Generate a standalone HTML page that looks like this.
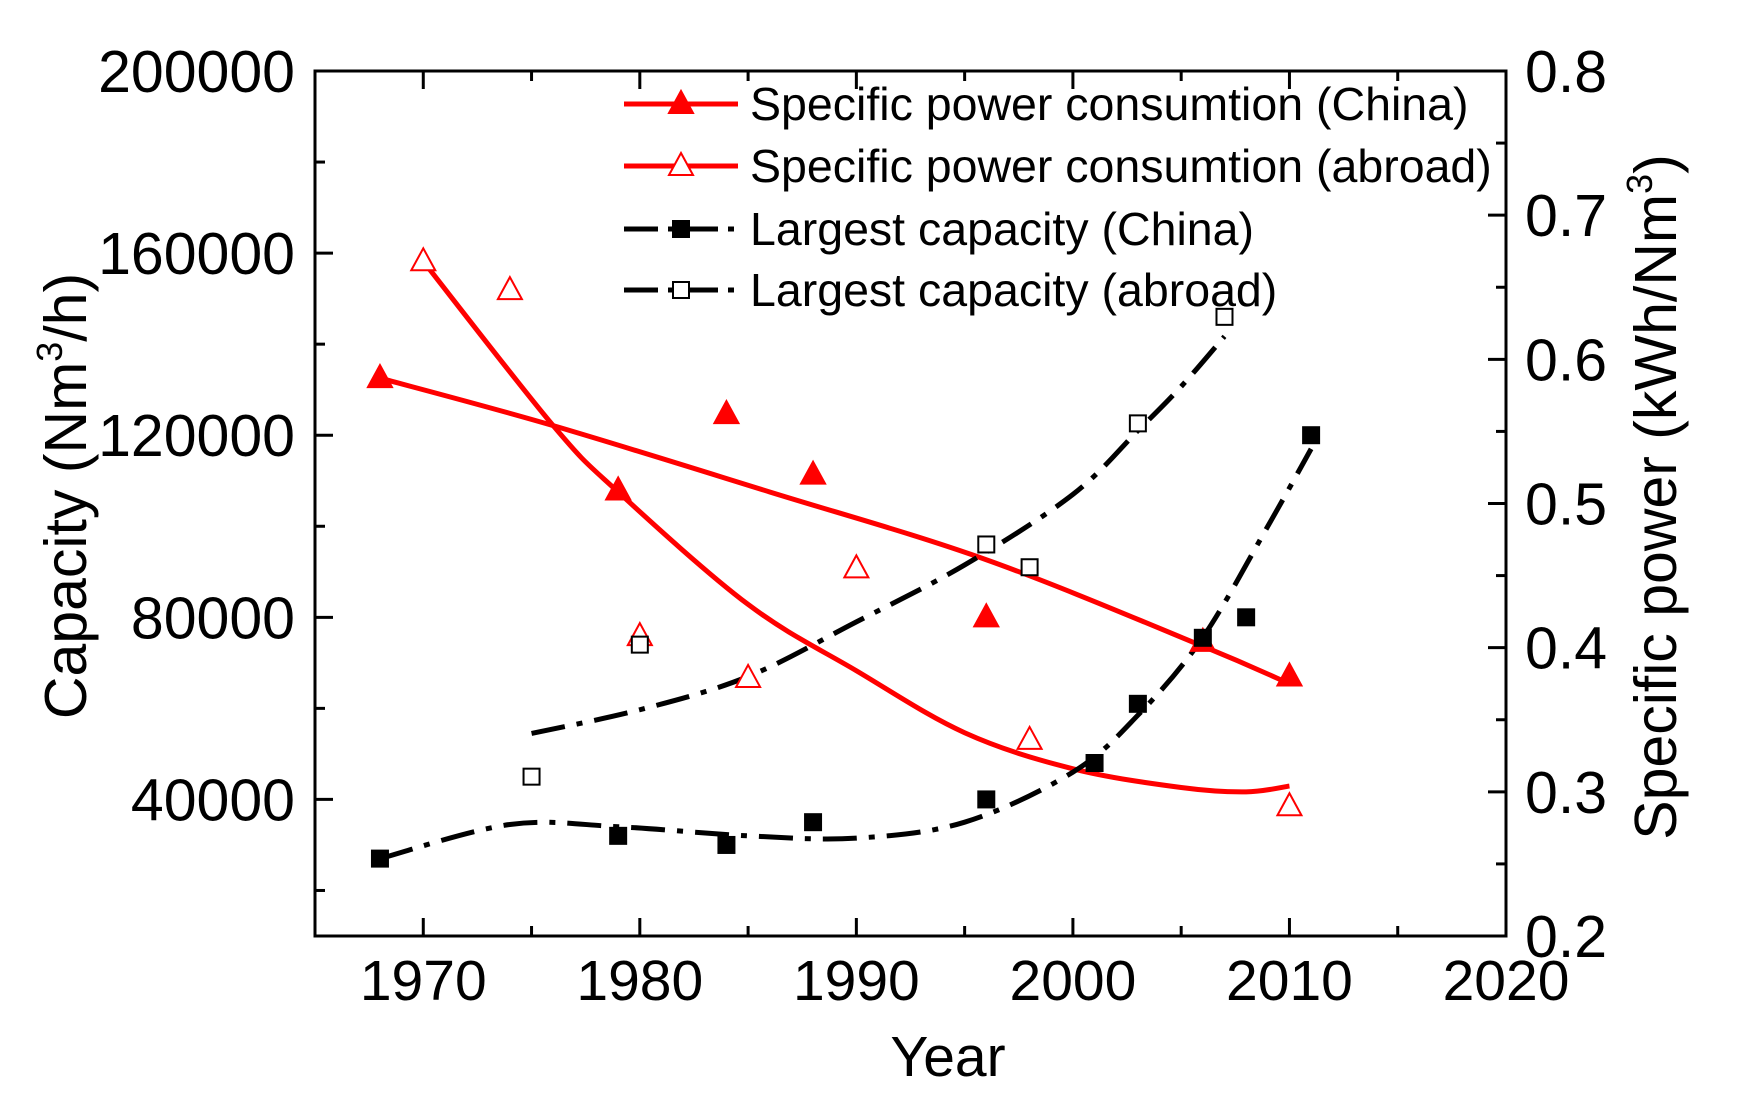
<!DOCTYPE html>
<html><head><meta charset="utf-8"><style>
html,body{margin:0;padding:0;background:#fff;}
svg{display:block;font-family:"Liberation Sans",Arial,sans-serif;}
</style></head><body>
<svg id="s" width="1749" height="1120" viewBox="0 0 1749 1120" xmlns="http://www.w3.org/2000/svg"></svg>
<script>
const NS="http://www.w3.org/2000/svg";const s=document.getElementById('s');
function el(t,a,txt){const e=document.createElementNS(NS,t);for(const k in a)e.setAttribute(k,a[k]);if(txt!==undefined)e.textContent=txt;s.appendChild(e);return e;}
const L=315,R=1506,T=71,B=936;
const X=y=>L+(y-1965)*(R-L)/55;
const YL=v=>B-(v-10000)/190000*(B-T);
const YR=p=>B-(p-0.2)/0.6*(B-T);
function smooth(pts){let d=`M${pts[0][0]},${pts[0][1]}`;for(let i=0;i<pts.length-1;i++){const p0=pts[i-1]||pts[i],p1=pts[i],p2=pts[i+1],p3=pts[i+2]||p2;
const c1=[p1[0]+(p2[0]-p0[0])/6,p1[1]+(p2[1]-p0[1])/6],c2=[p2[0]-(p3[0]-p1[0])/6,p2[1]-(p3[1]-p1[1])/6];d+=` C${c1[0]},${c1[1]} ${c2[0]},${c2[1]} ${p2[0]},${p2[1]}`;}return d;}
el('rect',{x:L,y:T,width:R-L,height:B-T,fill:'none',stroke:'#000','stroke-width':3});
for(let yr=1965;yr<=2020;yr+=5){const x=X(yr);const maj=yr%10==0;const len=maj?18:10;
 if(yr>1965&&yr<2020){el('line',{x1:x,y1:B,x2:x,y2:B-len,stroke:'#000','stroke-width':3});el('line',{x1:x,y1:T,x2:x,y2:T+len,stroke:'#000','stroke-width':3});}
 if(maj)el('text',{x:x,y:1000,'font-size':57,'text-anchor':'middle'},String(yr));}
for(let v=20000;v<=200000;v+=20000){const y=YL(v);const maj=v%40000==0;const len=maj?18:10;
 if(v<200000)el('line',{x1:L,y1:y,x2:L+len,y2:y,stroke:'#000','stroke-width':3});
 if(maj)el('text',{x:295,y:y+21,'font-size':59,'text-anchor':'end'},String(v));}
for(let i=4;i<=16;i++){const p=i*0.05;const y=YR(p);const maj=i%2==0;const len=maj?18:10;
 if(i>4&&i<16)el('line',{x1:R,y1:y,x2:R-len,y2:y,stroke:'#000','stroke-width':3});
 if(maj)el('text',{x:1525,y:y+21,'font-size':59},p.toFixed(1));}
el('text',{x:948,y:1076,'font-size':57,'text-anchor':'middle'},'Year');
let t=el('text',{transform:'translate(86,496) rotate(-90)','font-size':59,'text-anchor':'middle'});
t.innerHTML='Capacity (Nm<tspan dy="-24" font-size="36">3</tspan><tspan dy="24">/h)</tspan>';
t=el('text',{transform:'translate(1676,497) rotate(-90)','font-size':59,'text-anchor':'middle'});
t.innerHTML='Specific power (kWh/Nm<tspan dy="-24" font-size="36">3</tspan><tspan dy="24">)</tspan>';
const red='#f00';
const fitC=[[1968,.587],[1976,.554],[1986,.508],[1996,.461],[2006,.401],[2010,.375]].map(p=>[X(p[0]),YR(p[1])]);
el('path',{d:smooth(fitC),fill:'none',stroke:red,'stroke-width':5});
const fitA=[[1970,.668],[1976,.554],[1979,.508],[1985,.43],[1990,.384],[1995,.341],[2000,.316],[2005,.303],[2008,.300],[2010,.304]].map(p=>[X(p[0]),YR(p[1])]);
el('path',{d:smooth(fitA),fill:'none',stroke:red,'stroke-width':5});
const dash='34 12 6 12';
const fitCC=[[1968,27000],[1974,34500],[1979,34000],[1985,32000],[1990,31500],[1995,35000],[2000,46000],[2003,58500],[2006,75600],[2009,100000],[2011,117000]].map(p=>[X(p[0]),YL(p[1])]);
el('path',{d:smooth(fitCC),fill:'none',stroke:'#000','stroke-width':5,'stroke-dasharray':dash});
const fitCA=[[1975,54500],[1980,59700],[1985,67000],[1990,79000],[1995,91500],[2000,107000],[2003,121000],[2005,130700],[2007,141700]].map(p=>[X(p[0]),YL(p[1])]);
el('path',{d:smooth(fitCA),fill:'none',stroke:'#000','stroke-width':5,'stroke-dasharray':dash});
function tri(x,y,filled){el('path',{d:`M${x},${y-13} L${x+12},${y+9} L${x-12},${y+9} Z`,fill:filled?red:'#fff',stroke:red,'stroke-width':2});}
function sq(x,y,filled){el('rect',{x:x-8,y:y-8,width:16,height:16,fill:filled?'#000':'#fff',stroke:'#000','stroke-width':2});}
[[1968,.587],[1979,.509],[1984,.562],[1988,.52],[1996,.421],[2006,.404],[2010,.38]].forEach(p=>tri(X(p[0]),YR(p[1]),true));
[[1970,.668],[1974,.648],[1980,.408],[1985,.379],[1990,.455],[1998,.336],[2010,.290]].forEach(p=>tri(X(p[0]),YR(p[1]),false));
[[1968,27000],[1979,32000],[1984,30000],[1988,35000],[1996,40000],[2001,48000],[2003,61000],[2006,75500],[2008,80000],[2011,120000]].forEach(p=>sq(X(p[0]),YL(p[1]),true));
[[1975,45000],[1980,74000],[1996,96000],[1998,91000],[2003,122600],[2007,146000]].forEach(p=>sq(X(p[0]),YL(p[1]),false));
const ly=[104,166,229,290];
el('line',{x1:624,y1:ly[0],x2:738,y2:ly[0],stroke:red,'stroke-width':5});tri(681,ly[0],true);
el('line',{x1:624,y1:ly[1],x2:738,y2:ly[1],stroke:red,'stroke-width':5});tri(681,ly[1],false);
el('line',{x1:624,y1:ly[2],x2:738,y2:ly[2],stroke:'#000','stroke-width':5,'stroke-dasharray':'34 10 6 10'});sq(681,ly[2],true);
el('line',{x1:624,y1:ly[3],x2:738,y2:ly[3],stroke:'#000','stroke-width':5,'stroke-dasharray':'34 10 6 10'});sq(681,ly[3],false);
const lab=['Specific power consumtion (China)','Specific power consumtion (abroad)','Largest capacity (China)','Largest capacity (abroad)'];
lab.forEach((l,i)=>el('text',{x:750,y:ly[i]+16,'font-size':46.5},l));
</script>
</body></html>
